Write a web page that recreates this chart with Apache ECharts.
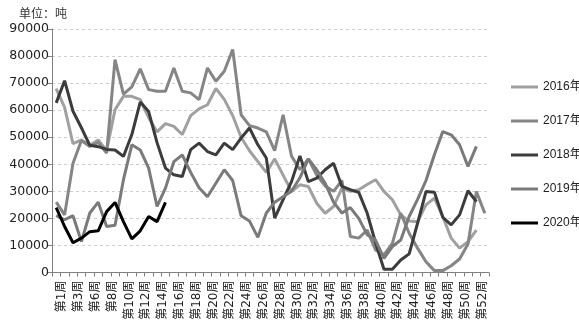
<!DOCTYPE html>
<html><head><meta charset="utf-8">
<script src="https://cdn.jsdelivr.net/npm/echarts@6/dist/echarts.min.js"></script>
<style>html,body{margin:0;padding:0;background:#fff}#c{width:579px;height:324px}</style>
</head><body><div id="c"></div>
<script>
const weeks = ['第1周','第2周','第3周','第5周'];
for (let w = 6; w <= 53; w++) weeks.push('第' + w + '周');
const seriesNames = ['2016年','2017年','2018年','2019年','2020年'];
const yTicks = [0, 90000, 10000];
const s2016 = [68000,61000,47600,49000,47000,49000,45000,60200,65100,65100,63900,57200,52000,55000,54000,51000,58000,60500,62000,68000,64000,58000,50000,45000,41000,37000,42000,36000,30000,32400,31800,25600,21900,24400,31200,30000,30600,32500,34300,30000,26900,21300,19000,18800,25000,27500,20700,12700,9000,11400,15700];
const s2017 = [26000,21300,40400,48800,46600,48100,44100,78700,65900,68600,75300,67600,67000,67000,75600,67000,66400,63900,75600,70700,74400,82400,58300,54300,53400,52000,45000,58300,43000,38000,42000,36000,32000,30000,34000,13300,12700,15700,8300,6500,10800,21900,14500,9000,4000,700,700,2500,5000,10500,29900,21900];
const s2018 = [62700,70900,59600,53500,47000,46500,45500,45300,42900,51000,63000,59500,48000,38600,36100,35500,45400,47800,44700,43500,47800,45400,49700,53400,47200,42300,20100,26900,33600,43100,33600,34900,38000,40400,31800,30600,29600,22000,11000,1200,1200,4600,6900,18200,29900,29700,20400,17600,21300,30200,26200];
const s2019 = [21000,19500,21000,11400,22000,26000,17000,17500,34300,47200,45300,38600,24400,31200,41000,43500,37000,31300,28000,33000,38000,34000,21000,19000,13000,22000,26000,28000,30000,35000,42000,38000,33000,26000,22000,24000,20000,14000,12000,5200,9600,12000,20700,27000,34000,43500,52100,50900,47200,39200,46600];
const s2020 = [24000,17000,11000,12700,15100,15400,22500,25900,18800,12400,15400,20700,18800,25900];
const colors = ['#a0a0a0','#858585','#3c3c3c','#7a7a7a','#000000'];
const dataList = [s2016, s2017, s2018, s2019, s2020];
const font = "'Liberation Sans','Noto Sans CJK SC',sans-serif";
const chart = echarts.init(document.getElementById('c'), null, {renderer:'canvas'});
chart.setOption({
  animation: false,
  backgroundColor: '#fff',
  textStyle: {fontFamily: font},
  title: {text: '单位：吨', left: 14, top: 4, textStyle: {fontSize: 12, fontWeight: 'normal', color: '#333', fontFamily: font}},
  grid: {left: 52, right: 90, top: 29, bottom: 51.5, containLabel: false, outerBoundsMode: 'none'},
  legend: {
    orient: 'vertical', left: 506, top: 76, itemWidth: 27, itemHeight: 3, itemGap: 22, icon: 'rect',
    data: seriesNames,
    textStyle: {fontSize: 12, color: '#222', fontFamily: font}
  },
  xAxis: {
    type: 'category', data: weeks, boundaryGap: true,
    axisLine: {lineStyle: {color: '#808080', width: 1}},
    axisTick: {show: true, interval: 0, length: 4, lineStyle: {color: '#808080'}},
    axisLabel: {interval: 1, rotate: 90, fontSize: 12, color: '#222', margin: 8, verticalAlign: 'top', fontFamily: "'DejaVu Sans','Noto Sans CJK SC',sans-serif"},
    splitLine: {show: false}
  },
  yAxis: {
    type: 'value', min: yTicks[0], max: yTicks[1], interval: yTicks[2],
    axisLine: {show: true, lineStyle: {color: '#808080', width: 1}},
    axisTick: {show: true, length: 4, lineStyle: {color: '#808080'}},
    axisLabel: {fontSize: 12.5, color: '#222', margin: 3, fontFamily: "'DejaVu Sans',sans-serif", formatter: v => String(v)},
    splitLine: {show: true, lineStyle: {color: '#cfcfcf', type: [3,3], width: 1}}
  },
  series: seriesNames.map((n, k) => ({
    name: n, type: 'line', data: dataList[k], symbol: 'none', smooth: false,
    lineStyle: {width: 3, color: colors[k]}, itemStyle: {color: colors[k]},
    emphasis: {disabled: true}, z: k === 4 ? 5 : 2
  }))
});
</script></body></html>
